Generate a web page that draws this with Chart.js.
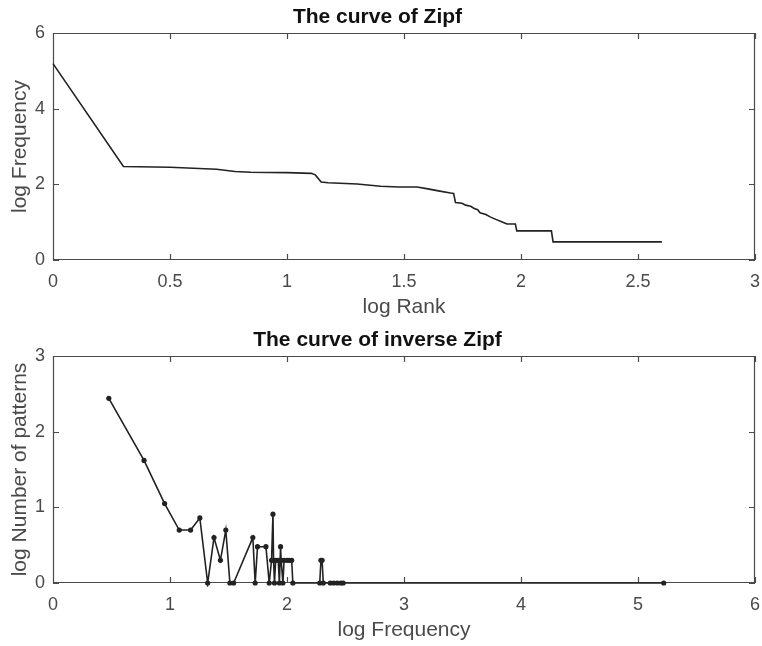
<!DOCTYPE html>
<html>
<head>
<meta charset="utf-8">
<script src="https://cdn.jsdelivr.net/npm/chart.js@4/dist/chart.umd.min.js"></script>
<style>
  body { margin: 0; background: #fff; }
  .panel { position: relative; width: 762px; height: 323px; }
</style>
</head>
<body>
<div class="panel"><canvas id="zipf"></canvas></div>
<div class="panel"><canvas id="inverse"></canvas></div>
<script>
// Zipf curve: log rank -> log frequency
const logRank = [0, 0.301, 0.5, 0.699, 0.778, 0.845, 1.0, 1.104, 1.121, 1.146, 1.176, 1.30, 1.40, 1.477, 1.556,
  1.602, 1.653, 1.699, 1.712, 1.720, 1.748, 1.763, 1.785, 1.800, 1.815, 1.825, 1.850, 1.868, 1.890, 1.917,
  1.940, 1.976, 1.982, 2.130, 2.137, 2.602];
const logFreq = [5.19, 2.47, 2.45, 2.40, 2.34, 2.32, 2.31, 2.29, 2.25, 2.06, 2.04, 2.01, 1.95, 1.93, 1.93,
  1.88, 1.82, 1.77, 1.76, 1.52, 1.50, 1.45, 1.42, 1.36, 1.33, 1.25, 1.20, 1.14, 1.08, 1.01,
  0.95, 0.95, 0.77, 0.77, 0.48, 0.48];

// inverse Zipf: log frequency -> log number of patterns
const invLogFreq = [0.477, 0.778, 0.954, 1.079, 1.176, 1.255, 1.322, 1.376, 1.431, 1.477, 1.512, 1.544,
  1.708, 1.728, 1.748, 1.820, 1.848, 1.868, 1.880, 1.885, 1.893, 1.903, 1.925, 1.935, 1.945, 1.950,
  1.965, 1.975, 2.000, 2.020, 2.040, 2.050, 2.280, 2.290, 2.300, 2.310, 2.370, 2.400, 2.430, 2.460,
  2.480, 5.220];
const invLogCount = [2.44, 1.62, 1.05, 0.70, 0.70, 0.86, 0, 0.60, 0.30, 0.70, 0, 0,
  0.60, 0, 0.48, 0.48, 0, 0.30, 0.91, 0.30, 0, 0.30, 0.30, 0, 0.48, 0.30,
  0, 0.30, 0.30, 0.30, 0.30, 0, 0, 0.30, 0.30, 0, 0, 0, 0, 0,
  0, 0];

const rankTicks = [0, 0.5, 1, 1.5, 2, 2.5, 3];
const freqTicks = [0, 2, 4, 6];
const invFreqTicks = [0, 1, 2, 3, 4, 5, 6];
const countTicks = [0, 1, 2, 3];

const axisColor = '#4a4a4a';
const lineColor = '#222';
const fontFamily = "'Liberation Sans', Arial, Helvetica, sans-serif";

// axes box with inward ticks on all four sides, under the data line
const boxTicks = {
  id: 'boxTicks',
  beforeDatasetsDraw(chart) {
    const { ctx, chartArea: a, scales: { x, y } } = chart;
    const len = 6;
    ctx.save();
    ctx.strokeStyle = axisColor;
    ctx.lineWidth = 1.2;
    ctx.beginPath();
    ctx.rect(Math.round(a.left) + 0.5, Math.round(a.top) + 0.5,
      Math.round(a.right - a.left) - 1, Math.round(a.bottom - a.top) - 1);
    x.ticks.forEach(t => {
      const px = Math.round(x.getPixelForValue(t.value)) + 0.5;
      ctx.moveTo(px, a.bottom); ctx.lineTo(px, a.bottom - len);
      ctx.moveTo(px, a.top); ctx.lineTo(px, a.top + len);
    });
    y.ticks.forEach(t => {
      const py = Math.round(y.getPixelForValue(t.value)) + 0.5;
      ctx.moveTo(a.left, py); ctx.lineTo(a.left + len, py);
      ctx.moveTo(a.right, py); ctx.lineTo(a.right - len, py);
    });
    ctx.stroke();
    ctx.restore();
  }
};

function makeScale(min, max, values, title, horizontal) {
  return {
    type: 'linear',
    min: min,
    max: max,
    grid: { display: false, drawTicks: false },
    border: { display: false },
    afterBuildTicks: s => { s.ticks = values.map(v => ({ value: v })); },
    afterFit: s => {
      if (horizontal) {
        s.height = 63;
        s.paddingLeft = 0;
        s.paddingRight = 0;
      } else {
        s.width = 53;
        s.paddingTop = 0;
        s.paddingBottom = 0;
      }
    },
    ticks: {
      autoSkip: false,
      maxRotation: 0,
      padding: horizontal ? 11.5 : 8,
      color: axisColor,
      font: { family: fontFamily, size: 18 },
      callback: v => String(v)
    },
    title: {
      display: true,
      text: title,
      color: axisColor,
      font: { family: fontFamily, size: 21 },
      padding: horizontal ? { top: 0, bottom: 3.2 } : { top: 7.2, bottom: 0 }
    }
  };
}

function drawCurve(id, xs, ys, opts) {
  const points = xs.map((v, i) => ({ x: v, y: ys[i] }));
  return new Chart(document.getElementById(id), {
    type: 'line',
    data: {
      datasets: [{
        data: points,
        borderColor: lineColor,
        backgroundColor: lineColor,
        borderWidth: 1.6,
        pointRadius: opts.markers ? 2.6 : 0,
        pointBorderWidth: 0,
        tension: 0,
        fill: false,
        clip: 4
      }]
    },
    options: {
      responsive: true,
      maintainAspectRatio: false,
      animation: false,
      layout: { padding: { left: 0, right: 7, top: 0, bottom: 0 } },
      plugins: {
        legend: { display: false },
        tooltip: { enabled: false },
        title: {
          display: true,
          text: opts.title,
          color: '#111',
          font: { family: fontFamily, size: 21, weight: 'bold' },
          padding: { top: 4.5, bottom: 3.3 }
        }
      },
      scales: {
        x: makeScale(opts.xMin, opts.xMax, opts.xTicks, opts.xTitle, true),
        y: makeScale(opts.yMin, opts.yMax, opts.yTicks, opts.yTitle, false)
      }
    },
    plugins: [boxTicks]
  });
}

drawCurve('zipf', logRank, logFreq, {
  title: 'The curve of Zipf',
  xTitle: 'log Rank', yTitle: 'log Frequency',
  xMin: 0, xMax: 3, xTicks: rankTicks,
  yMin: 0, yMax: 6, yTicks: freqTicks,
  markers: false
});

drawCurve('inverse', invLogFreq, invLogCount, {
  title: 'The curve of inverse Zipf',
  xTitle: 'log Frequency', yTitle: 'log Number of patterns',
  xMin: 0, xMax: 6, xTicks: invFreqTicks,
  yMin: 0, yMax: 3, yTicks: countTicks,
  markers: true
});
</script>
</body>
</html>
